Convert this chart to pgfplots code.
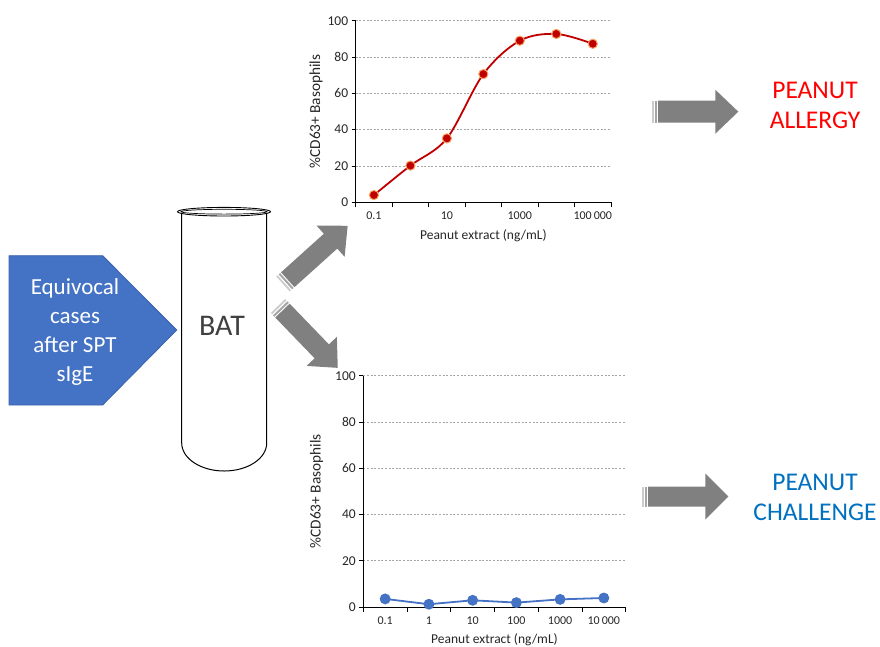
\documentclass[border=0pt]{standalone}
\usepackage{pgfplots}
\pgfplotsset{compat=1.18}
\usepackage{fontspec}
\setmainfont{Carlito}
\definecolor{boxblue}{HTML}{4472C4}
\definecolor{boxedge}{HTML}{3A62AC}
\definecolor{curvered}{HTML}{C00000}
\definecolor{haloorange}{HTML}{F4A460}
\definecolor{arrowgray}{HTML}{808080}
\definecolor{gridgray}{HTML}{A6A6A6}
\definecolor{challblue}{HTML}{0070C0}

% striped block arrow: tail point, angle, length, shaft width, head width
\newcommand{\grayarrow}[5]{%
\begin{scope}[shift={#1}, rotate=#2]
  \fill[gray!40] (0,-#4/2) rectangle (1.8,#4/2);
  \fill[gray!70] (3.2,-#4/2) rectangle (5.2,#4/2);
  \fill[arrowgray] (6.4,-#4/2) -- (#3-23,-#4/2) -- (#3-23,-#5/2) -- (#3,0)
     -- (#3-23,#5/2) -- (#3-23,#4/2) -- (6.4,#4/2) -- cycle;
\end{scope}}

\pgfplotsset{chartstyle/.style={
  scale only axis, clip=false,
  axis lines*=left,
  ymin=0, ymax=100, ytick={0,20,...,100},
  ymajorgrids,
  major grid style={gridgray, dash pattern=on 2pt off 1.6pt, line width=0.8pt},
  tick align=outside,
  major tick length=4pt, minor tick length=5pt,
  major x tick style={draw=none},
  axis line style={black, line width=0.8pt},
  every tick/.append style={black, line width=0.7pt},
  xticklabel style={font=\fontsize{12}{14}\selectfont, text=black!85, yshift=-2pt},
  yticklabel style={font=\fontsize{13.5}{15}\selectfont, text=black!85},
  xlabel style={font=\fontsize{13.5}{15}\selectfont, text=black!85,
    at={(axis description cs:0.5,0)}, anchor=center, yshift=-33pt},
  ylabel style={font=\fontsize{15.3}{17}\selectfont, text=black!85},
  /pgf/number format/assume math mode=true,
  xlabel={Peanut extract (ng/mL)},
  ylabel={\%CD63+ Basophils},
}}

\begin{document}
\begin{tikzpicture}[x=1pt,y=1pt]
\useasboundingbox (0,0) rectangle (880,-646);

% input box
\fill[boxblue, draw=boxedge, line width=0.8pt] (9,-255.7) -- (102.7,-255.7) -- (176.7,-330)
  -- (102.7,-405) -- (9,-405) -- cycle;
\node[text=white, align=center, font=\fontsize{23}{29}\selectfont] at (75,-332)
  {Equivocal\\cases\\after SPT\\sIgE};

% tube
\draw[line width=1pt] (181.7,-212) -- (181.7,-443)
  arc[start angle=180, end angle=360, x radius=42.5, y radius=28] -- (266.7,-212);
\draw[line width=0.9pt, fill=white] (224,-211.7) ellipse[x radius=46.5, y radius=4.3];
\draw[line width=0.7pt] (224,-211.7) ellipse[x radius=43, y radius=2.4];
\node[text=black!75, font=\fontsize{30}{34}\selectfont] at (222,-326) {BAT};

% arrows
\grayarrow{(283,-284)}{42}{87}{20}{42}
\grayarrow{(278,-306)}{-46}{86}{20}{42}
\grayarrow{(651.7,-111.7)}{0}{86.6}{22}{44}
\grayarrow{(641.7,-496.5)}{0}{86.6}{20}{46}

% outcomes
\node[text=red, align=center, font=\fontsize{25.5}{30}\selectfont] at (815,-105)
  {PEANUT\\ALLERGY};
\node[text=challblue, align=center, font=\fontsize{25.5}{30}\selectfont] at (815,-497)
  {PEANUT\\CHALLENGE};

% top chart: peanut allergy
\begin{axis}[chartstyle,
  at={(355.7pt,-202.3pt)}, anchor=south west,
  width=255.3pt, height=181.6pt,
  xmin=-0.5, xmax=6.5,
  xtick={0,...,6}, xticklabels={0.1,,10,,1000,,100\,000},
  minor xtick={-0.5,0.5,...,6.5},
  ylabel style={at={(axis description cs:-0.155,0.5)}, anchor=center},
]
\addplot[curvered, line width=1.8pt, smooth, tension=0.55,
  mark=*, mark size=4.6pt,
  mark options={fill=curvered, draw=haloorange, line width=1pt}]
  coordinates {(0,4.0) (1,20.2) (2,35.2) (3,70.6) (4,89.0) (5,92.7) (6,87.3)};
\end{axis}

% bottom chart: peanut challenge
\begin{axis}[chartstyle,
  at={(363.3pt,-607pt)}, anchor=south west,
  width=262.4pt, height=231.3pt,
  xmin=-0.5, xmax=5.5,
  xtick={0,...,5}, xticklabels={0.1,1,10,100,1000,10\,000},
  minor xtick={-0.5,0.5,...,5.5},
  ylabel style={at={(axis description cs:-0.178,0.5)}, anchor=center},
]
\addplot[boxblue, line width=1.8pt,
  mark=*, mark size=4.5pt, mark options={fill=boxblue, draw=boxblue}]
  coordinates {(0,3.5) (1,1.2) (2,2.9) (3,1.9) (4,3.3) (5,3.9)};
\end{axis}
\end{tikzpicture}
\end{document}
